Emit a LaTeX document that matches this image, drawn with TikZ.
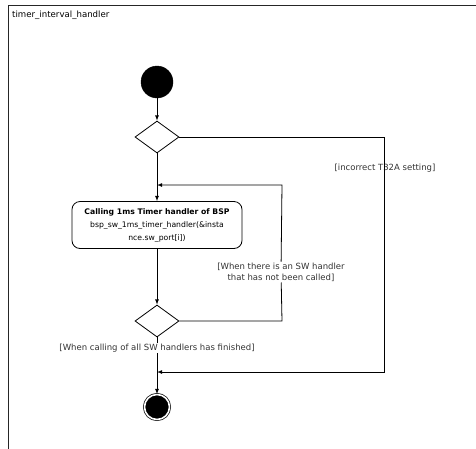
\documentclass[tikz,border=0pt]{standalone}
\usepackage{fontspec}
\setmainfont{DejaVu Sans}
\usetikzlibrary{shapes.geometric,arrows,positioning}
\tikzset{flow/.style={draw,line width=0.8pt}}
\tikzset{initial/.style={circle,fill=black,draw,minimum size=32pt,inner sep=0pt}}
\tikzset{final/.style={circle,fill=black,draw,line width=0.7pt,double=white,double distance=1.6pt,minimum size=25pt,inner sep=0pt}}
\tikzset{decision/.style={diamond,draw,line width=0.8pt,fill=white,minimum width=44pt,minimum height=32pt,inner sep=0pt}}
\tikzset{action/.style={rectangle,draw,line width=0.8pt,rounded corners=8pt,minimum width=170pt,minimum height=47pt,align=center,inner sep=2pt,font=\fontsize{7.7}{13}\selectfont}}
\tikzset{guard/.style={align=center,text=black!80,inner sep=1pt,font=\fontsize{8.5}{11}\selectfont}}

\begin{document}
\begin{tikzpicture}[x=1pt,y=1pt,>=latex]
    \useasboundingbox (0,0) rectangle (476,-448);
    % frame
    \draw[black!85,line width=1pt] (8,-460) -- (8,-5) -- (490,-5);
    \node[anchor=west,inner sep=0pt,font=\fontsize{8.6}{10}\selectfont] (title) at (12,-15) {timer\_interval\_handler};

    \node[initial] (start) at (157,-82) {};
    \node[decision,below of=start,node distance=55pt] (dec1) {};
    \node[action,below of=dec1,node distance=88pt] (call) {\textbf{Calling 1ms Timer handler of BSP}\\bsp\_sw\_1ms\_timer\_handler(\&insta\\nce.sw\_port[i])};
    \node[decision,below of=call,node distance=96pt] (dec2) {};
    \node[final,below of=dec2,node distance=86pt] (end) {};

    \coordinate (loopin) at (157,-185);
    \coordinate (loopr) at (282,-321);
    \coordinate (loopt) at (282,-185);
    \coordinate (skipr) at (384,-137);
    \coordinate (skipb) at (384,-372);
    \coordinate (skipin) at (157,-372);

    \node[guard] (g1) at (385,-168) {[incorrect T32A setting]};
    \node[guard,fill=white] (g2) at (281,-272) {[When there is an SW handler\\that has not been called]};
    \node[guard,fill=white] (g3) at (157,-348) {[When calling of all SW handlers has finished]};

        \path[flow,->] (start) -- (dec1);
        \path[flow,->] (dec1) -- (call);
        \path[flow,->] (call) -- (dec2);
        \path[flow] (dec2) -- (g3);
        \path[flow,->] (g3) -- (end);
        \path[flow] (dec2.east) -- (loopr) -- (g2);
        \path[flow,->] (g2) -- (loopt) -- (loopin);
        \path[flow,->] (dec1.east) -- (skipr) -- (skipb) -- (skipin);
  \end{tikzpicture}
\end{document}
